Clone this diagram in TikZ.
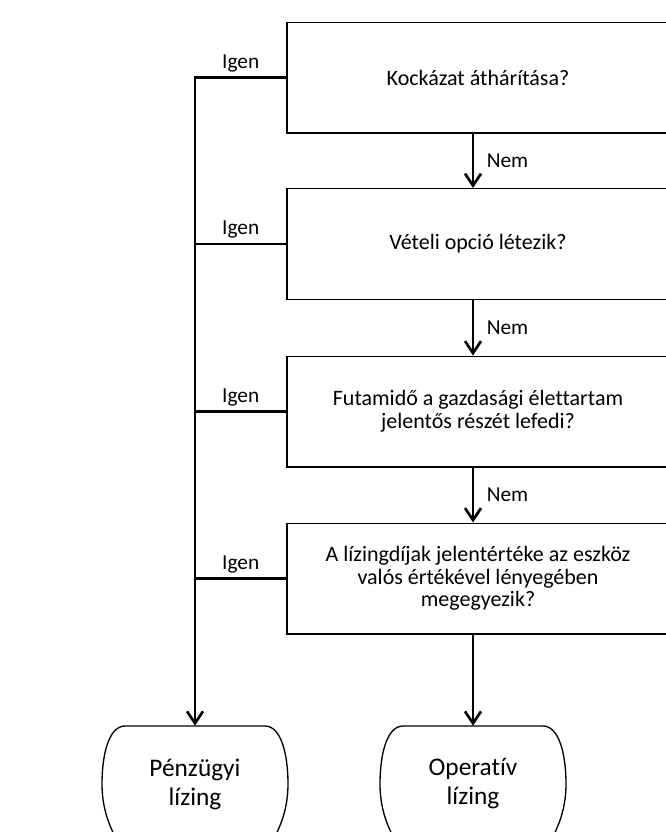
\documentclass[tikz,border=0pt]{standalone}
\usepackage{fontspec}
\setmainfont{Carlito}[Ligatures=NoCommon]
\usetikzlibrary{arrows.meta}
\tikzstyle{question}=[rectangle,draw=black,line width=1pt,align=center,
                      minimum width=286.5pt,minimum height=83pt,
                      font=\fontsize{16.5}{17}\selectfont]
\tikzstyle{leaf}=[rectangle,align=center,inner sep=0pt,
                  minimum width=139.5pt,minimum height=87pt,
                  font=\fontsize{19}{21.75}\selectfont]
\tikzstyle{conn}=[line width=2pt]
\tikzstyle{arr}=[line width=2pt,-{Straight Barb[length=9pt,width=12pt]}]
\tikzstyle{lbl}=[font=\fontsize{16}{15}\selectfont]

\begin{document}
\begin{tikzpicture}[x=0.75pt,y=-0.75pt]
    \useasboundingbox (0,0) rectangle (666,832);
    \clip (0,0) rectangle (666,832);
    \node (k1) at (478,77.5) [question]{Kockázat áthárítása?};
    \node (k2) at (478,244) [question]{Vételi opció létezik?};
    \node (k3) at (478,411.5) [question]{Futamidő a gazdasági élettartam\\
                                         jelentős részét lefedi?};
    \node (k4) at (478,578.5) [question]{A lízingdíjak jelentértéke az eszköz\\
                                         valós értékével lényegében\\
                                         megegyezik?};
    \node (pz) at (195,784) [leaf]{Pénzügyi\\lízing};
    \node (op) at (473,784) [leaf]{Operatív\\lízing};
    \foreach \n in {pz,op}
      \draw[line width=1pt,shift={(\n.center)}]
        (-78,56) .. controls (-87,40) and (-93,22) .. (-93,0)
        .. controls (-93,-30) and (-86,-58) .. (-70,-58) -- (70,-58)
        .. controls (86,-58) and (93,-30) .. (93,0)
        .. controls (93,22) and (87,40) .. (78,56);
    \draw[arr] (k1.south -| op.north) -- node[lbl,right,xshift=6pt]{Nem}
               (k2.north -| op.north);
    \draw[arr] (k2.south -| op.north) -- node[lbl,right,xshift=6pt]{Nem}
               (k3.north -| op.north);
    \draw[arr] (k3.south -| op.north) -- node[lbl,right,xshift=6pt]{Nem}
               (k4.north -| op.north);
    \draw[arr] (k4.south -| op.north) -- (op.north);
    \draw[arr] (k1.west) -| node[lbl,above,pos=0.25]{Igen} (pz.north);
    \foreach \k in {k2,k3,k4}
      \draw[conn] (\k.west) -- node[lbl,above]{Igen} (\k.west -| pz.north);
  \end{tikzpicture}
\end{document}
